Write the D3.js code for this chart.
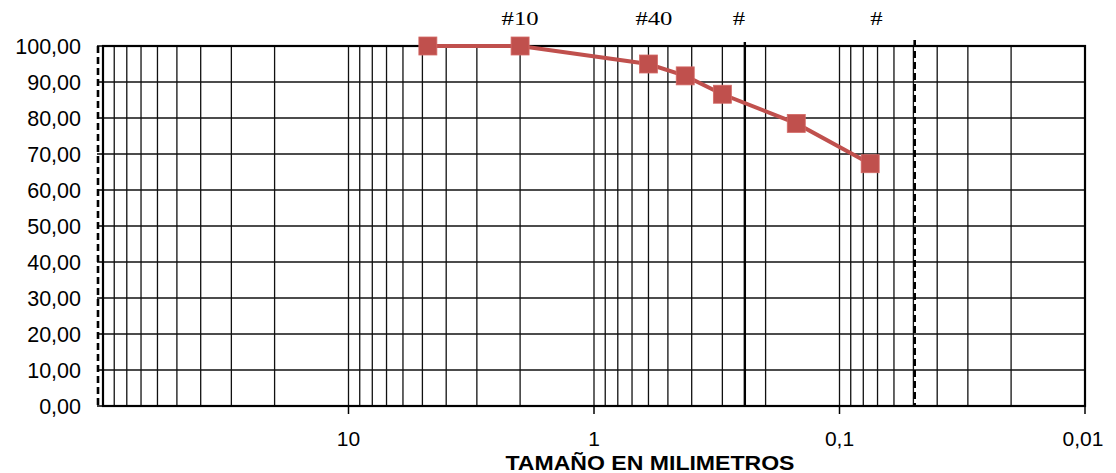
<!DOCTYPE html>
<html>
<head>
<meta charset="utf-8">
<script src="https://cdn.jsdelivr.net/npm/d3@7"></script>
<style>
  html, body { margin: 0; padding: 0; background: #fff; }
  svg { display: block; }
</style>
</head>
<body>
<div id="chart"></div>
<script>
// Sieve sizes (mm) and percent passing
const sizes = [4.75, 2.00, 0.60, 0.425, 0.30, 0.15, 0.075];
const passing = [100, 100, 95.0, 91.7, 86.6, 78.5, 67.3];

// X tick labels (decades) and y ticks
const xLabelTicks = [10, 1, 0.1, 0.01];
const yTicks = [0, 10, 20, 30, 40, 50, 60, 70, 80, 90, 100];

// Sieve labels above the plot
const sieveLabels = ["#10", "#40", "#", "#"];
const sieveLabelPos = [2.0, 0.57, 0.257, 0.0707];

// Reference vertical lines
const solidLines = [0.243];
const dashedLines = [104.8, 0.0494];

const width = 1116, height = 473;
const margins = { left: 103, right: 31, top: 46, bottom: 67 };

const comma = d3.formatLocale({ decimal: ",", thousands: ".", grouping: [3], currency: ["", ""] });
const fmtY = comma.format(".2f");
const fmtX = d => comma.format("~g")(d);

const svg = d3.select("#chart").append("svg")
    .attr("width", width)
    .attr("height", height);

const x = d3.scaleLog()
    .domain([100, 0.01])
    .range([margins.left, width - margins.right]);

const y = d3.scaleLinear()
    .domain([0, 100])
    .range([height - margins.bottom, margins.top]);

const plotTop = y(100), plotBottom = y(0);

// Vertical log gridlines
svg.append("g")
    .selectAll("line")
    .data(x.ticks())
    .enter()
    .append("line")
    .attr("x1", d => x(d)).attr("x2", d => x(d))
    .attr("y1", plotTop).attr("y2", plotBottom)
    .attr("stroke", "#111")
    .attr("stroke-width", 1.3);

// Horizontal gridlines
svg.append("g")
    .selectAll("line")
    .data(yTicks)
    .enter()
    .append("line")
    .attr("x1", x(100)).attr("x2", x(0.01))
    .attr("y1", d => y(d)).attr("y2", d => y(d))
    .attr("stroke", "#111")
    .attr("stroke-width", 1.3);

// Y tick marks + labels
svg.append("g")
    .selectAll("line")
    .data(yTicks)
    .enter()
    .append("line")
    .attr("x1", margins.left - 6).attr("x2", margins.left)
    .attr("y1", d => y(d)).attr("y2", d => y(d))
    .attr("stroke", "#000")
    .attr("stroke-width", 1.5);

svg.append("g")
    .selectAll("text")
    .data(yTicks)
    .enter()
    .append("text")
    .attr("x", 81)
    .attr("y", d => y(d) + 7.5)
    .attr("text-anchor", "end")
    .attr("font-family", "Liberation Sans, Arial, sans-serif")
    .attr("font-size", "21.5px")
    .attr("fill", "#000")
    .text(d => fmtY(d));

// X ticks + labels
svg.append("g")
    .selectAll("line")
    .data(xLabelTicks)
    .enter()
    .append("line")
    .attr("x1", d => x(d)).attr("x2", d => x(d))
    .attr("y1", plotBottom).attr("y2", plotBottom + 8)
    .attr("stroke", "#000")
    .attr("stroke-width", 1.5);

svg.append("g")
    .selectAll("text")
    .data(xLabelTicks)
    .enter()
    .append("text")
    .attr("x", d => x(d) - (d === 0.01 ? 2 : 0))
    .attr("y", plotBottom + 40)
    .attr("text-anchor", "middle")
    .attr("font-family", "Liberation Sans, Arial, sans-serif")
    .attr("font-size", "21px")
    .attr("fill", "#000")
    .text(d => fmtX(d));

// Frame
svg.append("rect")
    .attr("x", x(100)).attr("y", plotTop)
    .attr("width", x(0.01) - x(100))
    .attr("height", plotBottom - plotTop)
    .attr("fill", "none")
    .attr("stroke", "#000")
    .attr("stroke-width", 2.2);

// Reference lines
svg.append("g")
    .selectAll("line")
    .data(solidLines)
    .enter()
    .append("line")
    .attr("x1", d => x(d)).attr("x2", d => x(d))
    .attr("y1", plotTop - 4).attr("y2", plotBottom)
    .attr("stroke", "#000")
    .attr("stroke-width", 2.4);

svg.append("g")
    .selectAll("line")
    .data(dashedLines)
    .enter()
    .append("line")
    .attr("x1", d => x(d)).attr("x2", d => x(d))
    .attr("y1", d => d > 1 ? plotTop : plotTop - 6).attr("y2", plotBottom)
    .attr("stroke", "#000")
    .attr("stroke-width", 2.6)
    .attr("stroke-dasharray", "7,4");

// Sieve labels (horizontally stretched serif, as in the source)
svg.append("g")
    .selectAll("text")
    .data(sieveLabels)
    .enter()
    .append("text")
    .attr("transform", (d, i) => `translate(${x(sieveLabelPos[i])},25) scale(1.3,1)`)
    .attr("text-anchor", "middle")
    .attr("font-family", "Liberation Serif, Times New Roman, serif")
    .attr("font-size", "19px")
    .attr("fill", "#000")
    .text(d => d);

// Series line
const points = sizes.map((s, i) => [s, passing[i]]);
svg.append("path")
    .datum(points)
    .attr("fill", "none")
    .attr("stroke", "#C0504D")
    .attr("stroke-width", 4)
    .attr("d", d3.line().x(d => x(d[0])).y(d => y(d[1])));

// Markers
svg.append("g")
    .selectAll("rect")
    .data(points)
    .enter()
    .append("rect")
    .attr("x", d => x(d[0]) - 9)
    .attr("y", d => y(d[1]) - 9)
    .attr("width", 18)
    .attr("height", 18)
    .attr("fill", "#C0504D")
    .attr("stroke", "#D46A66")
    .attr("stroke-width", 0.8);

// Axis title
svg.append("text")
    .attr("x", 650)
    .attr("y", 470)
    .attr("text-anchor", "middle")
    .attr("font-family", "Liberation Sans, Arial, sans-serif")
    .attr("font-size", "20px")
    .attr("font-weight", "bold")
    .attr("textLength", 289)
    .attr("lengthAdjust", "spacingAndGlyphs")
    .attr("fill", "#000")
    .text("TAMAÑO EN MILIMETROS");
</script>
</body>
</html>
